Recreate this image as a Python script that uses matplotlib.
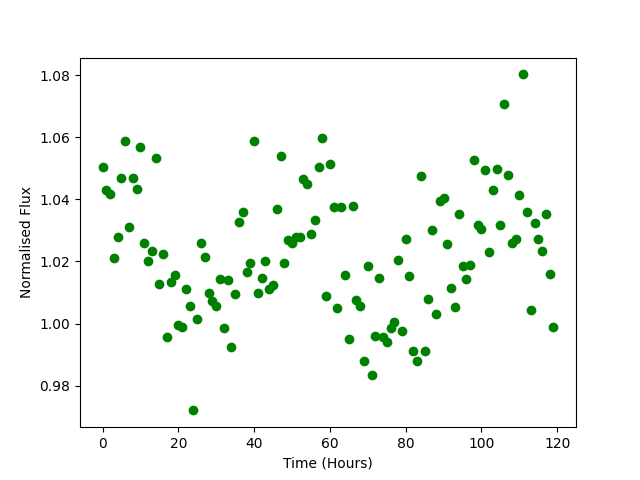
import numpy as np
import matplotlib
matplotlib.use("Agg")
import matplotlib.pyplot as plt

time_hours = np.arange(120)

flux = [
    1.0506, 1.0432, 1.0416, 1.0210, 1.0280, 1.0470, 1.0587, 1.0310, 1.0468, 1.0435,
    1.0570, 1.0260, 1.0200, 1.0235, 1.0535, 1.0126, 1.0223, 0.9958, 1.0135, 1.0155,
    0.9994, 0.9990, 1.0110, 1.0055, 0.9720, 1.0016, 1.0258, 1.0216, 1.0097, 1.0074,
    1.0055, 1.0145, 0.9987, 1.0139, 0.9923, 1.0094, 1.0326, 1.0360, 1.0165, 1.0194,
    1.0587, 1.0097, 1.0148, 1.0200, 1.0110, 1.0123, 1.0370, 1.0540, 1.0194, 1.0268,
    1.0260, 1.0280, 1.0280, 1.0465, 1.0450, 1.0290, 1.0335, 1.0506, 1.0597, 1.0090,
    1.0513, 1.0374, 1.0050, 1.0374, 1.0155, 0.9950, 1.0380, 1.0077, 1.0055, 0.9880,
    1.0187, 0.9835, 0.9961, 1.0148, 0.9955, 0.9942, 0.9987, 1.0006, 1.0206, 0.9977,
    1.0274, 1.0152, 0.9913, 0.9880, 1.0477, 0.9913, 1.0080, 1.0303, 1.0032, 1.0394,
    1.0403, 1.0255, 1.0116, 1.0052, 1.0352, 1.0184, 1.0142, 1.0190, 1.0526, 1.0319,
    1.0306, 1.0494, 1.0232, 1.0432, 1.0497, 1.0319, 1.0706, 1.0480, 1.0258, 1.0274,
    1.0413, 1.0803, 1.0358, 1.0042, 1.0323, 1.0274, 1.0235, 1.0352, 1.0161, 0.9990,
]

fig, ax = plt.subplots(figsize=(6.4, 4.8), dpi=100)
ax.plot(time_hours, flux, 'o', color='green')
ax.set_xlabel("Time (Hours)")
ax.set_ylabel("Normalised Flux")
fig.savefig("out.png")
